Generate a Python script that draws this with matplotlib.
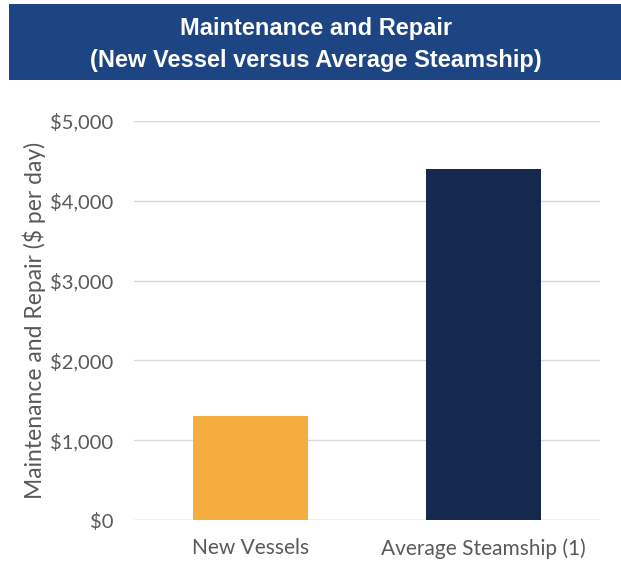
import matplotlib
matplotlib.use("Agg")
import matplotlib.pyplot as plt
from matplotlib.patches import Rectangle
from matplotlib.ticker import FuncFormatter

categories = ["New Vessels", "Average Steamship (1)"]
values = [1300, 4400]
bar_colors = ["#F5AD3F", "#14294D"]
y_ticks = [0, 1000, 2000, 3000, 4000, 5000]

TEXT_GRAY = "#595959"
BANNER = "#1D4483"

fig = plt.figure(figsize=(6.21, 5.63), dpi=100)
ax = fig.add_axes([134 / 621, 43 / 563, 466 / 621, 399 / 563])

# title banner
fig.patches.append(Rectangle((9 / 621, 483 / 563), 612 / 621, 76 / 563,
                             transform=fig.transFigure, facecolor=BANNER,
                             edgecolor="none", zorder=0))
fig.text(316 / 621, (563 - 28) / 563, "Maintenance and Repair",
         ha="center", va="center", color="white", fontsize=17,
         fontweight="bold", family="Liberation Sans")
fig.text(316 / 621, (563 - 60) / 563, "(New Vessel versus Average Steamship)",
         ha="center", va="center", color="white", fontsize=17,
         fontweight="bold", family="Liberation Sans")

x = range(len(categories))
ax.bar(x, values, width=0.49, color=bar_colors, zorder=3)

ax.set_xlim(-0.5, 1.5)
ax.set_ylim(0, 5000)
ax.set_yticks(y_ticks)
ax.yaxis.set_major_formatter(FuncFormatter(lambda v, _: f"${v:,.0f}"))
ax.set_xticks(list(x))
ax.set_xticklabels(categories)

ax.grid(axis="y", color="#D9D9D9", lw=1, zorder=0)
for s in ["top", "right", "left", "bottom"]:
    ax.spines[s].set_visible(False)
ax.axhline(0, color="#D9D9D9", lw=1, zorder=1)
ax.tick_params(length=0, labelcolor=TEXT_GRAY)
ax.tick_params(axis="y", pad=15, labelsize=14.5)
ax.tick_params(axis="x", pad=13, labelsize=15)
for lab in ax.get_xticklabels() + ax.get_yticklabels():
    lab.set_family("Lato")

ax.set_ylabel("Maintenance and Repair ($ per day)", fontsize=16.5,
              color=TEXT_GRAY, family="Lato")
ax.yaxis.set_label_coords(-(134 - 46) / 466, 0.5)

fig.savefig("out.png", dpi=100)
